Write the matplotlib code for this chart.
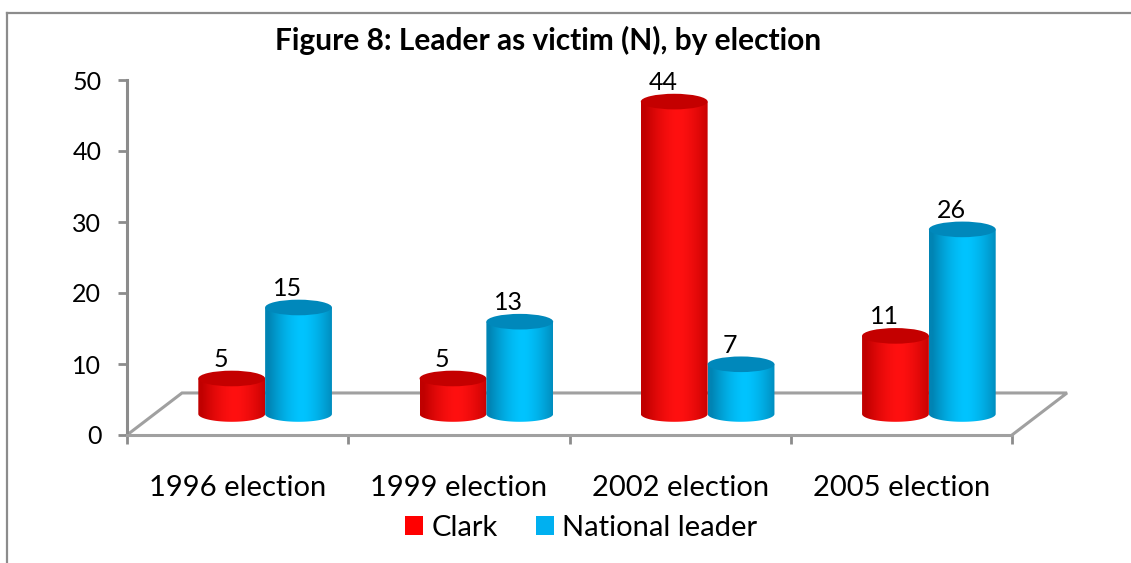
import numpy as np
import matplotlib
matplotlib.use("Agg")
import matplotlib.pyplot as plt
from matplotlib import patches
from matplotlib.lines import Line2D

plt.rcParams['font.family'] = ['Lato', 'DejaVu Sans']

# donnees
categories = ["1996 election", "1999 election", "2002 election", "2005 election"]
clark = [5, 5, 44, 11]
national = [15, 13, 7, 26]
series = [clark, national]
series_names = ["Clark", "National leader"]
yticks = [0, 10, 20, 30, 40, 50]

# couleurs (bord, centre, dessus)
colors = [("#c00000", "#ff1010", "#c40000"),
          ("#0084b4", "#00c4ff", "#0088bb")]
legend_colors = ["#ff0000", "#00b0f0"]

W, H = 1131, 563
fig = plt.figure(figsize=(W / 100, H / 100), dpi=100)
ax = fig.add_axes([127 / W, 128 / H, 885 / W, 355 / H])

# profondeur du "sol" 3D en unites de donnees
dx, dy = 0.2486, 5.92
cw = 0.302      # largeur d'un cylindre
eh = 2.2        # hauteur de l'ellipse

gray = "#8c8c8c"

# sol
ax.plot([0, dx, 4 + dx, 4], [0, dy, dy, 0], color="#a0a0a0", lw=2.2,
        zorder=1, clip_on=False, solid_joinstyle="miter")


def gradient(c_edge, c_mid, n=64):
    e = np.array(matplotlib.colors.to_rgb(c_edge))
    m = np.array(matplotlib.colors.to_rgb(c_mid))
    t = np.linspace(-1, 1, n) - 0.1
    k = np.clip(np.abs(t), 0, 1) ** 1.6
    return (m[None, :] * (1 - k[:, None]) + e[None, :] * k[:, None])[None, :, :]


z = 2
for i in range(len(categories)):
    for j, vals in enumerate(series):
        cx = i + 0.5 + dx / 2 + (j - 0.5) * cw
        base = dy / 2
        top = base + vals[i]
        x0, x1 = cx - cw / 2, cx + cw / 2
        t = np.linspace(np.pi, 2 * np.pi, 60)
        pts = np.column_stack([cx + cw / 2 * np.cos(t), base + eh / 2 * np.sin(t)])
        pts = np.vstack([pts, [[x1, top], [x0, top]]])
        body = patches.Polygon(pts, closed=True, transform=ax.transData,
                               facecolor="none", edgecolor="none")
        ax.add_patch(body)
        im = ax.imshow(gradient(colors[j][0], colors[j][1]),
                       extent=[x0, x1, base - eh / 2, top], aspect="auto",
                       zorder=z, interpolation="bilinear")
        im.set_clip_path(body)
        ax.add_patch(patches.Ellipse((cx, top), cw, eh, facecolor=colors[j][2],
                                     edgecolor="none", zorder=z + 0.5))
        ax.text(cx - 0.05, top + 2.7, str(vals[i]), ha="center", va="center",
                fontsize=18, zorder=20)
        z += 1

ax.set_xlim(0, 4)
ax.set_ylim(0, 50)

for s in ["top", "right"]:
    ax.spines[s].set_visible(False)
ax.spines["left"].set_color(gray)
ax.spines["left"].set_linewidth(2.2)
ax.spines["bottom"].set_color("#a0a0a0")
ax.spines["bottom"].set_linewidth(2.2)

ax.set_yticks(yticks)
ax.tick_params(axis="y", length=6.5, width=2, color=gray, pad=12, labelsize=18)
ax.set_xticks([0, 1, 2, 3, 4])
ax.set_xticklabels([])
ax.tick_params(axis="x", which="major", length=6.5, width=2, color=gray)
ax.set_xticks([0.5, 1.5, 2.5, 3.5], minor=True)
ax.set_xticklabels(categories, minor=True, fontsize=21)
ax.tick_params(axis="x", which="minor", length=0, pad=29)

fig.text(548 / W, 1 - 40 / H, "Figure 8: Leader as victim (N), by election",
         ha="center", va="center", fontsize=21.5, fontweight="bold")

handles = [patches.Patch(facecolor=c, edgecolor="none") for c in legend_colors]
fig.legend(handles, series_names, loc="center", bbox_to_anchor=(581 / W, 1 - 528 / H),
           ncol=2, frameon=False, fontsize=21, handlelength=0.62, handleheight=0.62,
           handletextpad=0.3, columnspacing=1.3, borderaxespad=0, borderpad=0)

# cadre du graphique (coupe a droite et en bas)
fig.add_artist(Line2D([7 / W, 1], [1 - 13 / H, 1 - 13 / H], color=gray, lw=1.6))
fig.add_artist(Line2D([7 / W, 7 / W], [0, 1 - 13 / H], color=gray, lw=1.6))

fig.savefig("out.png", dpi=100)
